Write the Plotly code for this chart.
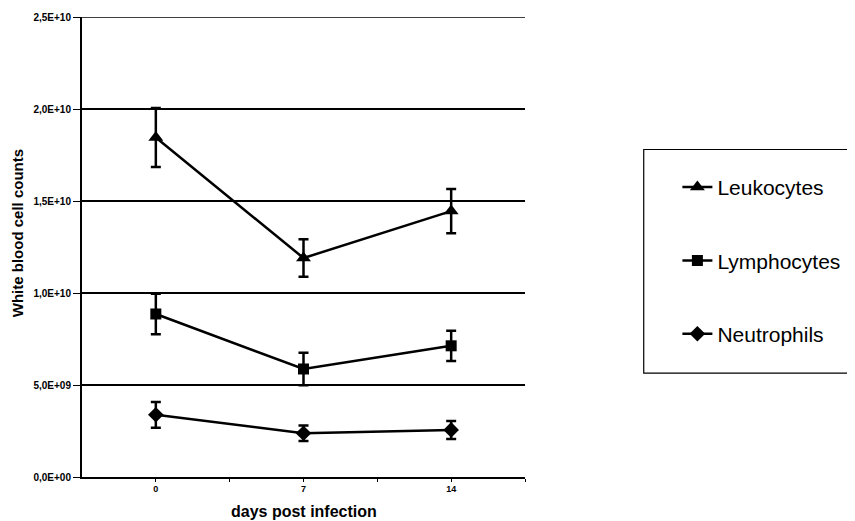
import plotly.graph_objects as go

days = ["0", "7", "14"]
leuko = [1.845e10, 1.19e10, 1.445e10]
leuko_err = [0.16e10, 0.102e10, 0.12e10]
lympho = [0.886e10, 0.587e10, 0.713e10]
lympho_err = [0.11e10, 0.088e10, 0.082e10]
neutro = [0.338e10, 0.238e10, 0.256e10]
neutro_err = [0.07e10, 0.042e10, 0.049e10]

ytick_vals = [0, 0.5e10, 1.0e10, 1.5e10, 2.0e10, 2.5e10]
ytick_text = ["0,0E+00", "5,0E+09", "1,0E+10", "1,5E+10", "2,0E+10", "2,5E+10"]

FONT = "Arial, Liberation Sans, Helvetica, sans-serif"
xpos = list(range(len(days)))

fig = go.Figure()
series = [
    ("Leukocytes", leuko, leuko_err, "triangle-up", 13),
    ("Lymphocytes", lympho, lympho_err, "square", 11),
    ("Neutrophils", neutro, neutro_err, "diamond", 12),
]
for name, vals, err, sym, sz in series:
    fig.add_trace(go.Scatter(
        x=xpos, y=vals, name=name, mode="lines+markers",
        legendgroup=name,
        line=dict(color="black", width=2.5),
        marker=dict(symbol=sym, size=sz, color="black"),
        error_y=dict(type="data", array=err, visible=True,
                     color="black", thickness=2.5, width=5),
    ))

# page body has an 8px margin, so the figure is drawn offset by 8px
fig.update_layout(
    width=847, height=513,
    margin=dict(l=74, r=330, t=9, b=44, autoexpand=False),
    paper_bgcolor="white", plot_bgcolor="white",
    font=dict(family=FONT, color="black"),
    showlegend=True,
    legend=dict(x=1.344, y=0.674, xanchor="left", yanchor="top",
                font=dict(size=21, family=FONT, color="black"),
                tracegroupgap=43, bgcolor="rgba(0,0,0,0)",
                itemwidth=30),
    xaxis=dict(
        range=[-0.5, 2.5],
        tickvals=[0, 0.5, 1, 1.5, 2, 2.5],
        ticktext=[days[0], "", days[1], "", days[2], ""],
        ticks="outside", ticklen=3, tickwidth=1, tickcolor="black",
        ticklabelstandoff=-1,
        showline=True, linecolor="black", linewidth=2,
        showgrid=False, zeroline=False, automargin=False,
        tickfont=dict(size=9, family=FONT, weight="bold"),
    ),
    yaxis=dict(
        range=[0, 2.5e10],
        tickvals=ytick_vals, ticktext=ytick_text,
        ticks="outside", ticklen=7, tickwidth=1, tickcolor="black",
        showline=True, linecolor="black", linewidth=2,
        showgrid=True, gridcolor="black", gridwidth=1.5,
        zeroline=False, automargin=False,
        tickfont=dict(size=10, family=FONT, weight="bold"),
    ),
    annotations=[
        dict(text="<b>White blood cell counts</b>", xref="paper", yref="paper",
             x=-0.1467, y=0.530, textangle=-90, showarrow=False,
             xanchor="center", yanchor="middle",
             font=dict(size=15, family=FONT, color="black")),
        dict(text="<b>days post infection</b>", xref="paper", yref="paper",
             x=0.5, y=-0.076, showarrow=False,
             xanchor="center", yanchor="middle",
             font=dict(size=16, family=FONT, color="black")),
    ],
    shapes=[
        dict(type="rect", xref="paper", yref="paper",
             x0=1.268, x1=1.745, y0=0.226, y1=0.712,
             line=dict(color="black", width=1.2)),
        dict(type="line", xref="paper", yref="y",
             x0=0, x1=1, y0=2.5e10, y1=2.5e10,
             line=dict(color="black", width=1.5)),
    ],
)

fig.write_html("out.html", config={"displayModeBar": False})
